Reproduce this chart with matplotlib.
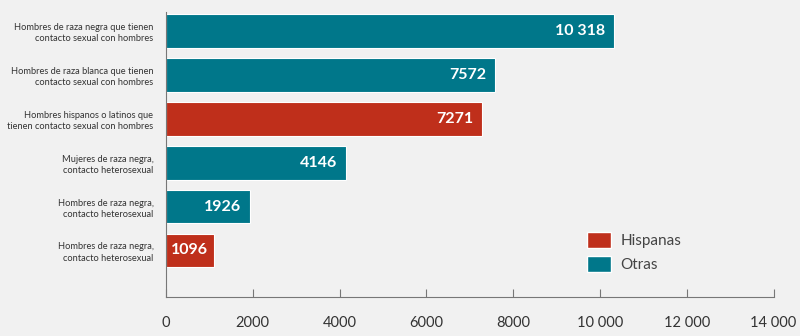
import matplotlib.pyplot as plt
from matplotlib.patches import Patch

categories = [
    "Hombres de raza negra que tienen\ncontacto sexual con hombres",
    "Hombres de raza blanca que tienen\ncontacto sexual con hombres",
    "Hombres hispanos o latinos que\ntienen contacto sexual con hombres",
    "Mujeres de raza negra,\ncontacto heterosexual",
    "Hombres de raza negra,\ncontacto heterosexual",
    "Hombres de raza negra,\ncontacto heterosexual",
]
values = [10318, 7572, 7271, 4146, 1926, 1096]
groups = ["Otras", "Otras", "Hispanas", "Otras", "Otras", "Hispanas"]
value_labels = ["10 318", "7572", "7271", "4146", "1926", "1096"]
xticks = [0, 2000, 4000, 6000, 8000, 10000, 12000, 14000]
xtick_labels = ["0", "2000", "4000", "6000", "8000", "10 000", "12 000", "14 000"]

colors = {"Hispanas": "#bf2f1b", "Otras": "#00778a"}
bg = "#f1f1f1"

plt.rcParams['font.family'] = ['Lato', 'DejaVu Sans']

fig = plt.figure(figsize=(8, 3.36), dpi=100, facecolor=bg)
ax = fig.add_axes([0.2075, 0.116, 0.7595, 0.848], facecolor=bg)

ypos = list(range(len(values)))
ax.barh(ypos, values, height=0.77, color=[colors[g] for g in groups],
        edgecolor="white", linewidth=0.8)

for y, v, lab, g in zip(ypos, values, value_labels, groups):
    if v > 1500:
        ax.text(v - 200, y, lab, ha="right", va="center", color="white",
                fontsize=11.5, fontweight="bold")
    else:
        ax.text(v / 2, y, lab, ha="center", va="center", color="white",
                fontsize=11.5, fontweight="bold")

ax.set_xlim(0, 14000)
ax.set_ylim(len(values) - 1 + 1.06, -0.43)

ax.set_xticks(xticks)
ax.set_xticklabels(xtick_labels)
ax.tick_params(axis="x", direction="in", length=6, width=0.8, color="#777777",
               labelsize=10.5, labelcolor="#333333", pad=14)

ax.set_yticks(ypos)
ax.set_yticklabels(categories, fontsize=6.7, color="#333333", linespacing=1.35)
ax.tick_params(axis="y", length=0, pad=9)

for s in ["top", "right"]:
    ax.spines[s].set_visible(False)
for s in ["left", "bottom"]:
    ax.spines[s].set_color("#777777")
    ax.spines[s].set_linewidth(0.8)

handles = [Patch(facecolor=colors["Hispanas"], edgecolor="white", label="Hispanas"),
           Patch(facecolor=colors["Otras"], edgecolor="white", label="Otras")]
leg = ax.legend(handles=handles, loc="lower left", bbox_to_anchor=(0.67, 0.04),
                frameon=False, fontsize=11, handlelength=1.6, handleheight=1.2,
                labelspacing=0.5, handletextpad=0.6)
for t in leg.get_texts():
    t.set_color("#444444")

fig.savefig("out.png", dpi=100, facecolor=bg)
